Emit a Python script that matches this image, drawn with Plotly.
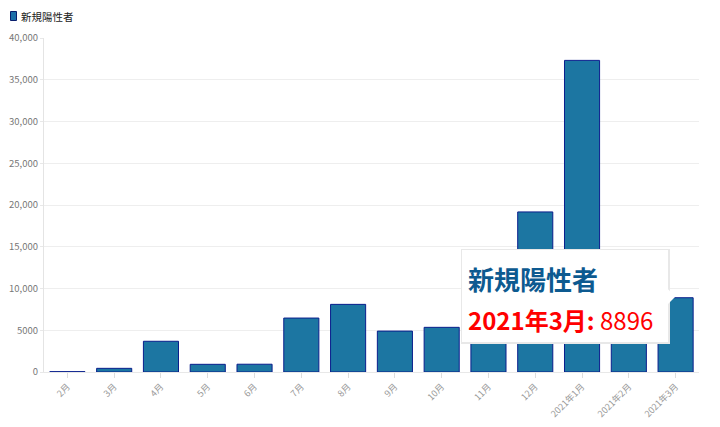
import plotly.graph_objects as go

months = ["2月", "3月", "4月", "5月", "6月", "7月", "8月", "9月", "10月", "11月", "12月",
          "2021年1月", "2021年2月", "2021年3月"]
new_cases = [40, 440, 3680, 920, 930, 6460, 8100, 4900, 5350, 9850, 19170, 37320, 9600, 8896]
series_name = "新規陽性者"
tooltip_label = "2021年3月"
tooltip_value = 8896

FONT = "Noto Sans CJK JP"
OFF = 8  # page body margin
W, H = 720 - OFF, 427 - OFF
L, R, T, B = 44 - OFF, 21, 38 - OFF, 55
pw, ph = W - L - R, H - T - B

def px(x):  # page pixel -> paper x
    return (x - OFF - L) / pw

def py(y):  # page pixel -> paper y
    return (H - B - (y - OFF)) / ph

fig = go.Figure()
fig.add_trace(go.Bar(
    x=months, y=new_cases, name=series_name,
    marker=dict(color="#1c76a2", line=dict(color="#0a1e8c", width=1)),
    showlegend=False,
))

shapes = [
    # legend swatch
    dict(type="rect", xref="paper", yref="paper", x0=px(10.5), x1=px(16.5), y0=py(20.5), y1=py(11.5),
         fillcolor="#1c6fa8", line=dict(color="#0a1e6c", width=1), layer="above"),
    # tooltip shadow + box
    dict(type="rect", xref="paper", yref="paper", x0=px(461), x1=px(670), y0=py(344), y1=py(249),
         fillcolor="#e8e8e8", line=dict(width=0), layer="above"),
    dict(type="rect", xref="paper", yref="paper", x0=px(462), x1=px(668), y0=py(342), y1=py(250),
         fillcolor="white", line=dict(width=0), layer="above"),
    dict(type="path", xref="paper", yref="paper",
         path=f"M {px(667)} {py(288)} L {px(675)} {py(297)} L {px(667)} {py(305)} Z",
         fillcolor="white", line=dict(width=0), layer="above"),
    # scrollbar strip
    dict(type="rect", xref="paper", yref="paper", x0=px(714), x1=px(718), y0=py(427), y1=py(0),
         fillcolor="#eeeeee", line=dict(width=0), layer="above"),
]

annotations = [
    dict(xref="paper", yref="paper", x=px(19), y=py(16), xanchor="left", yanchor="middle",
         text=series_name, showarrow=False,
         font=dict(family=FONT, size=10.5, color="#222222")),
    dict(xref="paper", yref="paper", x=px(466), y=py(278), xanchor="left", yanchor="middle",
         text=f"<b>{series_name}</b>", showarrow=False,
         font=dict(family=FONT, size=26, color="#0d5a90")),
    dict(xref="paper", yref="paper", x=px(466), y=py(319), xanchor="left", yanchor="middle",
         text=f"<b>{tooltip_label}:</b> {tooltip_value}", showarrow=False,
         font=dict(family=FONT, size=24, color="#ff0000")),
]

fig.update_layout(
    width=W, height=H,
    margin=dict(l=L, r=R, t=T, b=B, autoexpand=False),
    paper_bgcolor="white", plot_bgcolor="white",
    font=dict(family=FONT),
    bargap=0.25,
    showlegend=False,
    xaxis=dict(
        type="category", tickangle=-45, ticks="outside", ticklen=5, tickcolor="#dddddd",
        tickfont=dict(family=FONT, size=9, color="#999999"),
        showline=True, linecolor="#e8e8e8", showgrid=False, fixedrange=True,
    ),
    yaxis=dict(
        range=[0, 40000], dtick=5000, ticks="outside", ticklen=3, tickcolor="#e8e8e8",
        exponentformat="none", separatethousands=False,
        tickfont=dict(family=FONT, size=9.5, color="#777777"),
        gridcolor="#eeeeee", showline=True, linecolor="#e4e4e4", zeroline=False,
        fixedrange=True,
    ),
    shapes=shapes,
    annotations=annotations,
)

fig.write_html("out.html")
